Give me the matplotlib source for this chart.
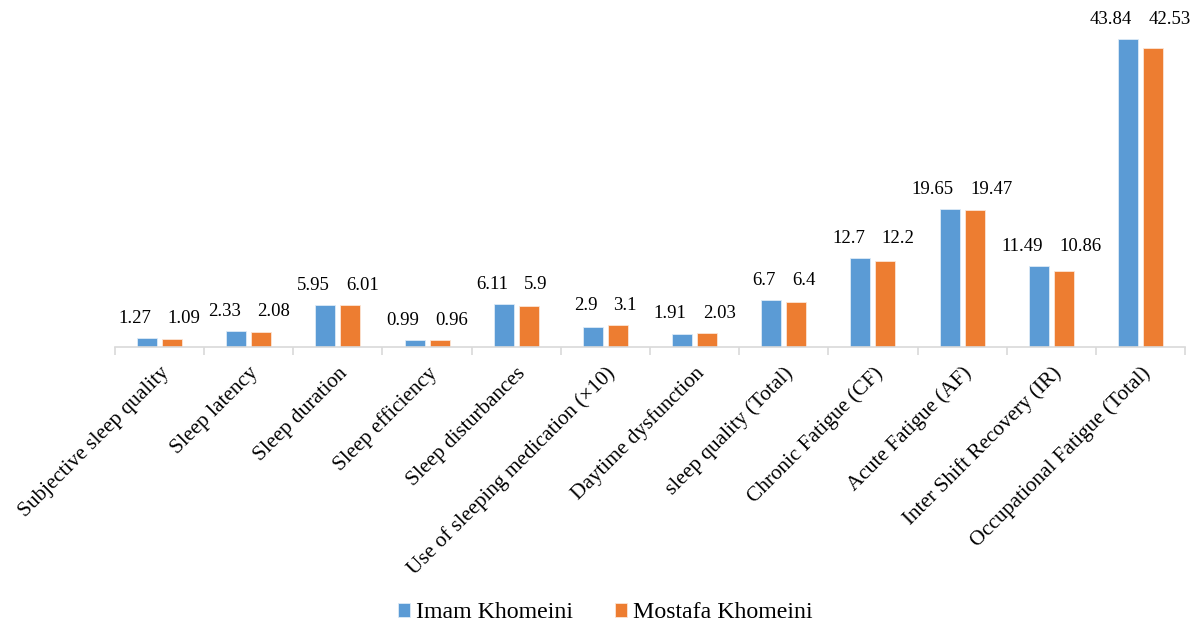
import numpy as np
import matplotlib
matplotlib.use("Agg")
import matplotlib.pyplot as plt

categories = [
    "Subjective sleep quality", "Sleep latency", "Sleep duration",
    "Sleep efficiency", "Sleep disturbances",
    "Use of sleeping medication (\u00d710)", "Daytime dysfunction",
    "sleep quality (Total)", "Chronic Fatigue (CF)", "Acute Fatigue (AF)",
    "Inter Shift Recovery (IR)", "Occupational Fatigue (Total)",
]
imam = [1.27, 2.33, 5.95, 0.99, 6.11, 2.9, 1.91, 6.7, 12.7, 19.65, 11.49, 43.84]
mostafa = [1.09, 2.08, 6.01, 0.96, 5.9, 3.1, 2.03, 6.4, 12.2, 19.47, 10.86, 42.53]
labels_imam = ["1.27", "2.33", "5.95", "0.99", "6.11", "2.9", "1.91", "6.7",
               "12.7", "19.65", "11.49", "43.84"]
labels_mostafa = ["1.09", "2.08", "6.01", "0.96", "5.9", "3.1", "2.03", "6.4",
                  "12.2", "19.47", "10.86", "42.53"]

plt.rcParams["font.family"] = ["Liberation Serif", "DejaVu Serif"]

W, H = 1202, 628
fig = plt.figure(figsize=(W / 100, H / 100), dpi=100)
# axes placed in pixel terms: x 115..1185, baseline at y=347
ax = fig.add_axes([115 / W, (H - 347) / H, 1070 / W, 316 / H])

x = np.arange(len(categories))
bw = 0.225
b1 = ax.bar(x - 0.14, imam, bw, color="#5B9BD5", edgecolor="#DDEBF7", linewidth=0.6,
            label="Imam Khomeini")
b2 = ax.bar(x + 0.14, mostafa, bw, color="#ED7D31", edgecolor="#FBE5D6", linewidth=0.6,
            label="Mostafa Khomeini")

# labels sit side by side over each group, like the Excel original
for i in range(len(categories)):
    top = max(imam[i], mostafa[i])
    ax.annotate(labels_imam[i], (i, top), xytext=(-5.8, 10.8),
                textcoords="offset points", ha="right", va="baseline",
                fontsize=13.5, annotation_clip=False)
    ax.annotate(labels_mostafa[i], (i, top), xytext=(5.8, 10.8),
                textcoords="offset points", ha="left", va="baseline",
                fontsize=13.5, annotation_clip=False)

ax.set_xlim(-0.5, len(categories) - 0.5)
ax.set_ylim(0, 45)
ax.set_yticks([])
for s in ("left", "right", "top"):
    ax.spines[s].set_visible(False)
ax.spines["bottom"].set_color("#D9D9D9")
ax.spines["bottom"].set_linewidth(1.2)

ax.set_xticks(np.arange(len(categories) + 1) - 0.5, minor=False)
ax.set_xticklabels([])
ax.tick_params(axis="x", length=6, color="#D9D9D9", width=1.2)
ax.set_xticks(x, minor=True)
ax.set_xticklabels(categories, minor=True, rotation=45, ha="right",
                   rotation_mode="anchor", fontsize=15.3)
ax.tick_params(axis="x", which="minor", length=0, pad=12)

fig.legend(handles=[b1, b2], loc="center", bbox_to_anchor=(605 / W, 1 - 613 / H),
           ncol=2, frameon=False, fontsize=17.2, handlelength=0.5, handleheight=0.5,
           columnspacing=1.75, handletextpad=0.25)

fig.savefig("out.png", dpi=100)
